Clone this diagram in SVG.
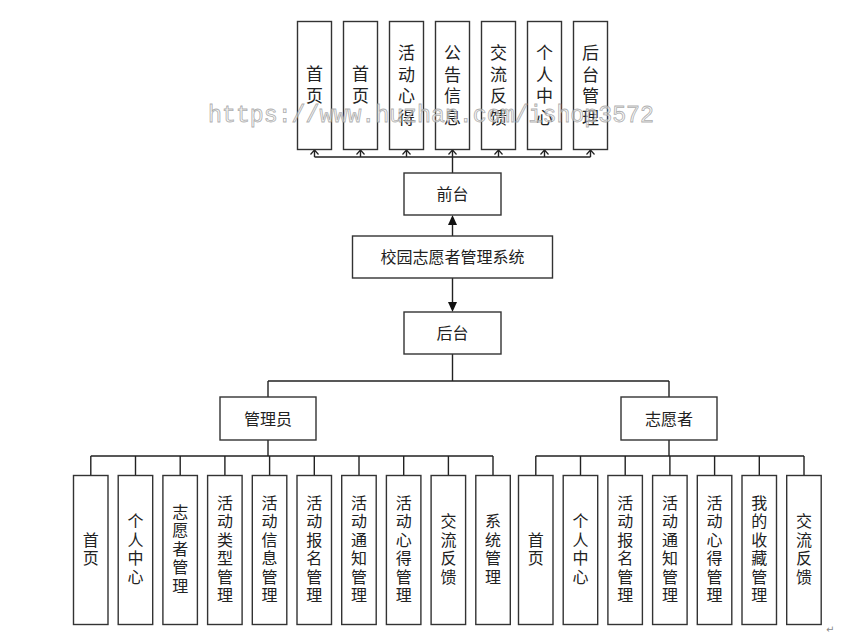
<svg xmlns="http://www.w3.org/2000/svg" width="865" height="636" viewBox="0 0 865 636">
<defs>
<style>
.box{fill:#fff;stroke:#333;stroke-width:1.4}
.ln{fill:none;stroke:#222;stroke-width:1.4}
.oa{fill:none;stroke:#222;stroke-width:1.2}
.fa{fill:#111;stroke:none}
.t{font-family:"Noto Sans CJK SC","Noto Sans",sans-serif;font-size:16px;fill:#222;text-anchor:middle}
.tt{font-family:"Noto Sans CJK SC","Noto Sans",sans-serif;font-size:17px;fill:#222;text-anchor:middle}
.wm{font-family:"Liberation Mono",monospace;font-size:23px;fill:#f2f2f2;fill-opacity:0.6;stroke:#9a9a9a;stroke-width:0.8;stroke-opacity:0.8}
</style>
</defs>
<rect x="0" y="0" width="865" height="636" fill="#fff"/>

<g id="connectors">
  <!-- top: 前台 to front pages -->
  <path class="ln" d="M452.5,173 V150 M314.5,157 H590.5 M314.5,157 V150 M360.5,157 V150 M406.5,157 V150 M498.5,157 V150 M544.5,157 V150 M590.5,157 V150"/>
  <path class="oa" d="M310.5,154.5 L314.5,150 L318.5,154.5 M356.5,154.5 L360.5,150 L364.5,154.5 M402.5,154.5 L406.5,150 L410.5,154.5 M448.5,154.5 L452.5,150 L456.5,154.5 M494.5,154.5 L498.5,150 L502.5,154.5 M540.5,154.5 L544.5,150 L548.5,154.5 M586.5,154.5 L590.5,150 L594.5,154.5"/>
  <!-- system to 前台 -->
  <path class="ln" d="M452.5,236 V222"/>
  <path class="fa" d="M452.5,215 L448,225 L457,225 Z"/>
  <!-- system to 后台 -->
  <path class="ln" d="M452.5,278 V303"/>
  <path class="fa" d="M452.5,312 L448,302 L457,302 Z"/>
  <!-- 后台 to roles -->
  <path class="ln" d="M452.5,354 V381 M268,381 H669 M268,381 V397 M669,381 V397"/>
  <!-- 管理员 children -->
  <path class="ln" d="M268,440 V456 M90.8,456 H493 M90.8,456 V475.5 M135.5,456 V475.5 M180.2,456 V475.5 M224.9,456 V475.5 M269.6,456 V475.5 M314.3,456 V475.5 M359,456 V475.5 M403.7,456 V475.5 M448.4,456 V475.5 M493,456 V475.5"/>
  <!-- 志愿者 children -->
  <path class="ln" d="M669,440 V456 M535.8,456 H804 M535.8,456 V475.5 M580.5,456 V475.5 M625.2,456 V475.5 M669.9,456 V475.5 M714.6,456 V475.5 M759.3,456 V475.5 M804,456 V475.5"/>
</g>

<!-- top front pages -->
<g id="f1"><rect class="box" x="297.5" y="21.5" width="34" height="128"/><text class="tt"><tspan x="314.5" y="80">首</tspan><tspan x="314.5" y="101.5">页</tspan></text></g>
<g id="f2"><rect class="box" x="343.5" y="21.5" width="34" height="128"/><text class="tt"><tspan x="360.5" y="80">首</tspan><tspan x="360.5" y="101.5">页</tspan></text></g>
<g id="f3"><rect class="box" x="389.5" y="21.5" width="34" height="128"/><text class="tt"><tspan x="406.5" y="59">活</tspan><tspan x="406.5" y="80.5">动</tspan><tspan x="406.5" y="102">心</tspan><tspan x="406.5" y="123.5">得</tspan></text></g>
<g id="f4"><rect class="box" x="435.5" y="21.5" width="34" height="128"/><text class="tt"><tspan x="452.5" y="59">公</tspan><tspan x="452.5" y="80.5">告</tspan><tspan x="452.5" y="102">信</tspan><tspan x="452.5" y="123.5">息</tspan></text></g>
<g id="f5"><rect class="box" x="481.5" y="21.5" width="34" height="128"/><text class="tt"><tspan x="498.5" y="59">交</tspan><tspan x="498.5" y="80.5">流</tspan><tspan x="498.5" y="102">反</tspan><tspan x="498.5" y="123.5">馈</tspan></text></g>
<g id="f6"><rect class="box" x="527.5" y="21.5" width="34" height="128"/><text class="tt"><tspan x="544.5" y="59">个</tspan><tspan x="544.5" y="80.5">人</tspan><tspan x="544.5" y="102">中</tspan><tspan x="544.5" y="123.5">心</tspan></text></g>
<g id="f7"><rect class="box" x="573.5" y="21.5" width="34" height="128"/><text class="tt"><tspan x="590.5" y="59">后</tspan><tspan x="590.5" y="80.5">台</tspan><tspan x="590.5" y="102">管</tspan><tspan x="590.5" y="123.5">理</tspan></text></g>

<g id="qiantai"><rect class="box" x="404" y="173" width="97" height="42"/><text class="t" x="452.5" y="200">前台</text></g>
<g id="system"><rect class="box" x="352.5" y="236" width="200" height="42"/><text class="t" x="452.5" y="263">校园志愿者管理系统</text></g>
<g id="houtai"><rect class="box" x="404" y="312" width="97" height="42"/><text class="t" x="452.5" y="339">后台</text></g>
<g id="admin"><rect class="box" x="220" y="397" width="96" height="43"/><text class="t" x="268" y="424.5">管理员</text></g>
<g id="volunteer"><rect class="box" x="621" y="397" width="96" height="43"/><text class="t" x="669" y="424.5">志愿者</text></g>

<!-- admin children -->
<g id="a1"><rect class="box" x="73.5" y="475.5" width="34.5" height="149"/><text class="t"><tspan x="90.8" y="545.5">首</tspan><tspan x="90.8" y="564">页</tspan></text></g>
<g id="a2"><rect class="box" x="118.2" y="475.5" width="34.5" height="149"/><text class="t"><tspan x="135.5" y="527">个</tspan><tspan x="135.5" y="545.5">人</tspan><tspan x="135.5" y="564">中</tspan><tspan x="135.5" y="582.5">心</tspan></text></g>
<g id="a3"><rect class="box" x="162.9" y="475.5" width="34.5" height="149"/><text class="t"><tspan x="180.2" y="517.8">志</tspan><tspan x="180.2" y="536.3">愿</tspan><tspan x="180.2" y="554.8">者</tspan><tspan x="180.2" y="573.3">管</tspan><tspan x="180.2" y="591.8">理</tspan></text></g>
<g id="a4"><rect class="box" x="207.6" y="475.5" width="34.5" height="149"/><text class="t"><tspan x="224.9" y="508.5">活</tspan><tspan x="224.9" y="527">动</tspan><tspan x="224.9" y="545.5">类</tspan><tspan x="224.9" y="564">型</tspan><tspan x="224.9" y="582.5">管</tspan><tspan x="224.9" y="601">理</tspan></text></g>
<g id="a5"><rect class="box" x="252.3" y="475.5" width="34.5" height="149"/><text class="t"><tspan x="269.6" y="508.5">活</tspan><tspan x="269.6" y="527">动</tspan><tspan x="269.6" y="545.5">信</tspan><tspan x="269.6" y="564">息</tspan><tspan x="269.6" y="582.5">管</tspan><tspan x="269.6" y="601">理</tspan></text></g>
<g id="a6"><rect class="box" x="297" y="475.5" width="34.5" height="149"/><text class="t"><tspan x="314.3" y="508.5">活</tspan><tspan x="314.3" y="527">动</tspan><tspan x="314.3" y="545.5">报</tspan><tspan x="314.3" y="564">名</tspan><tspan x="314.3" y="582.5">管</tspan><tspan x="314.3" y="601">理</tspan></text></g>
<g id="a7"><rect class="box" x="341.7" y="475.5" width="34.5" height="149"/><text class="t"><tspan x="359" y="508.5">活</tspan><tspan x="359" y="527">动</tspan><tspan x="359" y="545.5">通</tspan><tspan x="359" y="564">知</tspan><tspan x="359" y="582.5">管</tspan><tspan x="359" y="601">理</tspan></text></g>
<g id="a8"><rect class="box" x="386.4" y="475.5" width="34.5" height="149"/><text class="t"><tspan x="403.7" y="508.5">活</tspan><tspan x="403.7" y="527">动</tspan><tspan x="403.7" y="545.5">心</tspan><tspan x="403.7" y="564">得</tspan><tspan x="403.7" y="582.5">管</tspan><tspan x="403.7" y="601">理</tspan></text></g>
<g id="a9"><rect class="box" x="431.1" y="475.5" width="34.5" height="149"/><text class="t"><tspan x="448.4" y="527">交</tspan><tspan x="448.4" y="545.5">流</tspan><tspan x="448.4" y="564">反</tspan><tspan x="448.4" y="582.5">馈</tspan></text></g>
<g id="a10"><rect class="box" x="475.8" y="475.5" width="34.5" height="149"/><text class="t"><tspan x="493" y="527">系</tspan><tspan x="493" y="545.5">统</tspan><tspan x="493" y="564">管</tspan><tspan x="493" y="582.5">理</tspan></text></g>

<!-- volunteer children -->
<g id="v1"><rect class="box" x="518.5" y="475.5" width="34.5" height="149"/><text class="t"><tspan x="535.8" y="545.5">首</tspan><tspan x="535.8" y="564">页</tspan></text></g>
<g id="v2"><rect class="box" x="563.2" y="475.5" width="34.5" height="149"/><text class="t"><tspan x="580.5" y="527">个</tspan><tspan x="580.5" y="545.5">人</tspan><tspan x="580.5" y="564">中</tspan><tspan x="580.5" y="582.5">心</tspan></text></g>
<g id="v3"><rect class="box" x="607.9" y="475.5" width="34.5" height="149"/><text class="t"><tspan x="625.2" y="508.5">活</tspan><tspan x="625.2" y="527">动</tspan><tspan x="625.2" y="545.5">报</tspan><tspan x="625.2" y="564">名</tspan><tspan x="625.2" y="582.5">管</tspan><tspan x="625.2" y="601">理</tspan></text></g>
<g id="v4"><rect class="box" x="652.6" y="475.5" width="34.5" height="149"/><text class="t"><tspan x="669.9" y="508.5">活</tspan><tspan x="669.9" y="527">动</tspan><tspan x="669.9" y="545.5">通</tspan><tspan x="669.9" y="564">知</tspan><tspan x="669.9" y="582.5">管</tspan><tspan x="669.9" y="601">理</tspan></text></g>
<g id="v5"><rect class="box" x="697.3" y="475.5" width="34.5" height="149"/><text class="t"><tspan x="714.6" y="508.5">活</tspan><tspan x="714.6" y="527">动</tspan><tspan x="714.6" y="545.5">心</tspan><tspan x="714.6" y="564">得</tspan><tspan x="714.6" y="582.5">管</tspan><tspan x="714.6" y="601">理</tspan></text></g>
<g id="v6"><rect class="box" x="742" y="475.5" width="34.5" height="149"/><text class="t"><tspan x="759.3" y="508.5">我</tspan><tspan x="759.3" y="527">的</tspan><tspan x="759.3" y="545.5">收</tspan><tspan x="759.3" y="564">藏</tspan><tspan x="759.3" y="582.5">管</tspan><tspan x="759.3" y="601">理</tspan></text></g>
<g id="v7"><rect class="box" x="786.7" y="475.5" width="34.5" height="149"/><text class="t"><tspan x="804" y="527">交</tspan><tspan x="804" y="545.5">流</tspan><tspan x="804" y="564">反</tspan><tspan x="804" y="582.5">馈</tspan></text></g>

<text x="826" y="633" font-family="DejaVu Sans,sans-serif" font-size="10" fill="#888">↵</text>
<text class="wm" x="208" y="122" textLength="446" lengthAdjust="spacingAndGlyphs">https://www.huzhan.com/ishop3572</text>
</svg>
